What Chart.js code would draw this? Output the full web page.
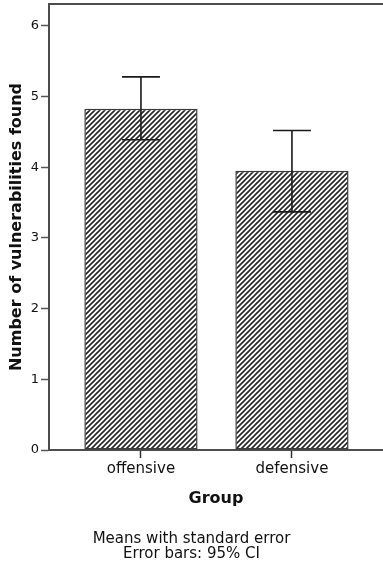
<!DOCTYPE html>
<html>
<head>
<meta charset="utf-8">
<script src="https://cdn.jsdelivr.net/npm/chart.js@4"></script>
<style>
  html, body { margin: 0; padding: 0; background: #fff; }
  #wrap { width: 383px; height: 568px; position: relative; }
</style>
</head>
<body>
<div id="wrap"><canvas id="c" width="383" height="568"></canvas></div>
<script>
const groups = ['offensive', 'defensive'];
const means = [4.83, 3.95];
const ciLow = [4.39, 3.37];
const ciHigh = [5.28, 4.52];
const yTicks = [0, 1, 2, 3, 4, 5, 6];
const caption = ['Means with standard error', 'Error bars: 95% CI'];

function hatch() {
  const s = 5;
  const c = document.createElement('canvas');
  c.width = s; c.height = s;
  const g = c.getContext('2d');
  g.fillStyle = '#fff';
  g.fillRect(0, 0, s, s);
  g.strokeStyle = '#262626';
  g.lineWidth = 1.6;
  g.beginPath();
  g.moveTo(-1, s + 1); g.lineTo(s + 1, -1);
  g.moveTo(-1, 1); g.lineTo(1, -1);
  g.moveTo(s - 1, s + 1); g.lineTo(s + 1, s - 1);
  g.stroke();
  return document.getElementById('c').getContext('2d').createPattern(c, 'repeat');
}

const FONT = '"DejaVu Sans", sans-serif';
const INK = '#111';

const frame = {
  id: 'frame',
  afterDraw(chart) {
    const {ctx, chartArea} = chart;
    ctx.save();
    ctx.strokeStyle = '#4d4d4d';
    ctx.lineWidth = 2;
    ctx.beginPath();
    ctx.moveTo(chartArea.left - 1, chartArea.top);
    ctx.lineTo(chart.width, chartArea.top);
    ctx.stroke();
    ctx.restore();
  }
};

const errorBars = {
  id: 'errorBars',
  afterDatasetsDraw(chart) {
    const {ctx} = chart;
    const xs = chart.scales.x, ys = chart.scales.y;
    ctx.save();
    ctx.strokeStyle = '#1a1a1a';
    ctx.lineWidth = 1.6;
    for (let i = 0; i < means.length; i++) {
      const x = xs.getPixelForValue(i + 1);
      const y1 = ys.getPixelForValue(ciLow[i]);
      const y2 = ys.getPixelForValue(ciHigh[i]);
      const hw = 19;
      ctx.beginPath();
      ctx.moveTo(x, y1); ctx.lineTo(x, y2);
      ctx.moveTo(x - hw, y1); ctx.lineTo(x + hw, y1);
      ctx.moveTo(x - hw, y2); ctx.lineTo(x + hw, y2);
      ctx.stroke();
    }
    ctx.restore();
  }
};

new Chart(document.getElementById('c'), {
  type: 'bar',
  data: {
    datasets: [{
      data: means.map((m, i) => ({x: i + 1, y: m})),
      backgroundColor: hatch(),
      borderColor: '#3a3a3a',
      borderWidth: 1.5,
      borderSkipped: false,
      barPercentage: 0.75,
      categoryPercentage: 1.0
    }]
  },
  options: {
    responsive: false,
    animation: false,
    events: [],
    layout: { padding: { top: 4, left: 0, right: 0, bottom: 0 } },
    plugins: {
      legend: { display: false },
      tooltip: { enabled: false },
      title: {
        display: true,
        position: 'bottom',
        text: caption,
        color: INK,
        font: { family: FONT, size: 15, weight: 'normal', lineHeight: 1.0 },
        padding: { top: 21.5, bottom: 6.5 }
      }
    },
    scales: {
      x: {
        type: 'linear',
        offset: false,
        min: 0.391,
        max: 2.603,
        afterBuildTicks(scale) { scale.ticks = groups.map((g, i) => ({value: i + 1})); },
        afterFit(scale) { scale.height = 60; scale.paddingLeft = 0; scale.paddingRight = 0; },
        ticks: {
          color: INK,
          font: { family: FONT, size: 15 },
          padding: 2,
          maxRotation: 0,
          autoSkip: false,
          callback: (v) => groups[v - 1]
        },
        grid: {
          offset: false,
          drawOnChartArea: false,
          drawTicks: true,
          tickLength: 8,
          tickColor: '#333',
          tickWidth: 1.5
        },
        border: { display: true, color: '#4d4d4d', width: 2 },
        title: {
          display: true,
          text: 'Group',
          color: INK,
          font: { family: FONT, size: 16, weight: 'bold' },
          padding: { top: 0, bottom: 1.4 }
        }
      },
      y: {
        min: 0,
        max: 6.311,
        afterBuildTicks(scale) { scale.ticks = yTicks.map(v => ({value: v})); },
        afterFit(scale) { scale.width = 49; scale.paddingTop = 0; scale.paddingBottom = 0; },
        ticks: {
          color: INK,
          font: { family: FONT, size: 13 },
          padding: 2
        },
        grid: {
          drawOnChartArea: false,
          drawTicks: true,
          tickLength: 8,
          tickColor: '#555',
          tickWidth: 1.5
        },
        border: { display: true, color: '#4d4d4d', width: 2 },
        title: {
          display: true,
          text: 'Number of vulnerabilities found',
          color: INK,
          font: { family: FONT, size: 16, weight: 'bold' },
          padding: { top: 7.4, bottom: 0 }
        }
      }
    }
  },
  plugins: [frame, errorBars]
});
</script>
</body>
</html>
